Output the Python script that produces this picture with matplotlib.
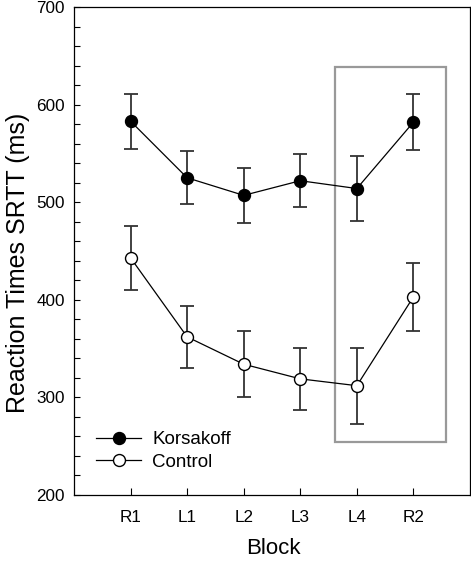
import matplotlib
matplotlib.use("Agg")
import matplotlib.pyplot as plt
from matplotlib.patches import Rectangle
from matplotlib.ticker import MultipleLocator

plt.rcParams['font.family'] = ['Liberation Sans', 'DejaVu Sans']

blocks = ["R1", "L1", "L2", "L3", "L4", "R2"]
korsakoff_mean = [583, 525, 507, 522, 514, 582]
korsakoff_err = [28, 27, 28, 27, 33, 29]
control_mean = [443, 362, 334, 319, 312, 403]
control_err = [33, 32, 34, 32, 39, 35]

# highlighted range (L4 to R2) in data units
highlight_y = (254, 639)

fig = plt.figure(figsize=(4.71, 5.61), dpi=100)
ax = fig.add_axes([74/471, 1-495/561, 396/471, 488/561])

x = list(range(1, len(blocks) + 1))

ax.errorbar(x, korsakoff_mean, yerr=korsakoff_err, fmt='none', ecolor='#333333',
            elinewidth=1.3, capsize=5.3, capthick=1.3, zorder=2)
ax.errorbar(x, control_mean, yerr=control_err, fmt='none', ecolor='#333333',
            elinewidth=1.3, capsize=5.3, capthick=1.3, zorder=2)
ax.plot(x, korsakoff_mean, '-o', color='black', lw=0.9, markersize=8.6,
        markerfacecolor='black', markeredgecolor='black', label='Korsakoff', zorder=3)
ax.plot(x, control_mean, '-o', color='black', lw=0.9, markersize=8.6,
        markerfacecolor='white', markeredgecolor='black', markeredgewidth=1.0,
        label='Control', zorder=3)

i4 = blocks.index("L4") + 1
i6 = blocks.index("R2") + 1
rect = Rectangle((i4 - 0.39, highlight_y[0]), (i6 + 0.58) - (i4 - 0.39),
                 highlight_y[1] - highlight_y[0], fill=False,
                 edgecolor='#999999', lw=1.6, zorder=1)
ax.add_patch(rect)

ax.set_xlim(0, 7)
ax.set_ylim(200, 700)
ax.set_xticks(x)
ax.set_xticklabels(blocks)
ax.yaxis.set_major_locator(MultipleLocator(100))
ax.yaxis.set_minor_locator(MultipleLocator(20))
ax.tick_params(axis='y', which='both', direction='in', length=4.5, width=0.8,
               labelsize=12.3, pad=6.5)
ax.tick_params(axis='x', which='both', direction='in', length=5, width=0.8,
               labelsize=12.3, pad=11)
for s in ax.spines.values():
    s.set_linewidth(0.9)

ax.set_xlabel("Block", fontsize=16)
ax.set_ylabel("Reaction Times SRTT (ms)", fontsize=18)
ax.xaxis.set_label_coords(0.504, -0.089)
ax.yaxis.set_label_coords(-0.111, 0.475)

ax.legend(loc='upper left', bbox_to_anchor=((96-74)/396, (495-431)/488),
          frameon=False, fontsize=13.5, handlelength=2.4, handletextpad=0.6,
          labelspacing=0.3, borderaxespad=0, borderpad=0)

fig.savefig("out.png", dpi=100)
